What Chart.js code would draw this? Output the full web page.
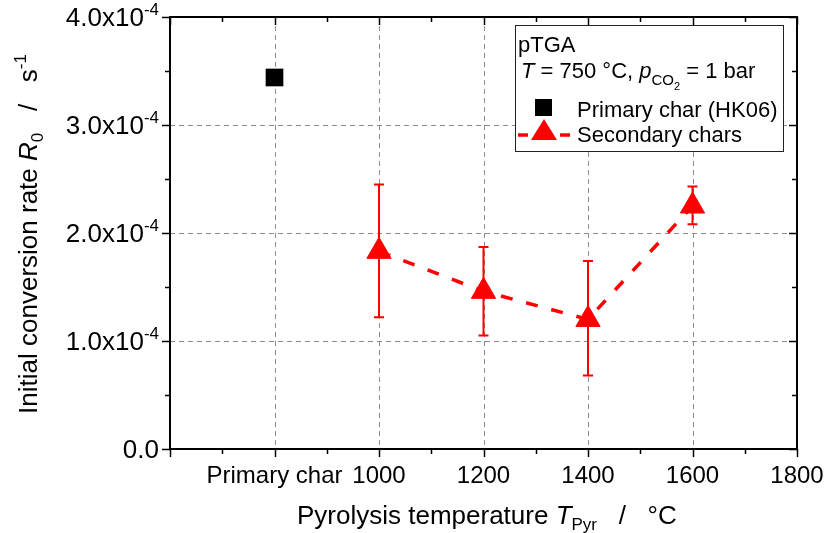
<!DOCTYPE html>
<html>
<head>
<meta charset="utf-8">
<script src="https://cdn.jsdelivr.net/npm/chart.js@4.4.1/dist/chart.umd.min.js"></script>
<style>
  body { margin: 0; background: #fff; }
  canvas { display: block; }
</style>
</head>
<body>
<canvas id="myChart" width="826" height="533"></canvas>
<script>
// data
const primaryTemp = [800];
const primaryRate = [3.44e-4];

const secondaryTemps = [1000, 1200, 1400, 1600];
const secondaryRates = [1.83e-4, 1.46e-4, 1.20e-4, 2.25e-4];
const secondaryLow = [1.22e-4, 1.05e-4, 0.68e-4, 2.08e-4];
const secondaryHigh = [2.45e-4, 1.87e-4, 1.74e-4, 2.43e-4];

const xTickValues = [600, 800, 1000, 1200, 1400, 1600, 1800];
const xTickLabels = ['', 'Primary char', '1000', '1200', '1400', '1600', '1800'];
const yTickValues = [0, 1e-4, 2e-4, 3e-4, 4e-4];
const yTickMantissa = ['0.0', '1.0', '2.0', '3.0', '4.0'];
const yTickExponent = ['', '-4', '-4', '-4', '-4'];

const FONT = '"Liberation Sans", Arial, sans-serif';
function font(size, italic) {
  return (italic ? 'italic ' : '') + size + 'px ' + FONT;
}

// draw a row of text pieces with different fonts / offsets
function drawRuns(ctx, runs, x, y, align) {
  let w = 0;
  runs.forEach(function(r) { ctx.font = r.font; w += ctx.measureText(r.t).width; });
  let cx = x;
  if (align === 'right') cx = x - w;
  if (align === 'center') cx = x - w / 2;
  runs.forEach(function(r) {
    ctx.font = r.font;
    ctx.fillText(r.t, cx, y + (r.dy || 0));
    cx += ctx.measureText(r.t).width;
  });
}

const gridPlugin = {
  id: 'gridAndErrors',
  beforeDatasetsDraw(chart) {
    const ctx = chart.ctx;
    const xs = chart.scales.x, ys = chart.scales.y;
    const a = chart.chartArea;
    ctx.save();
    ctx.strokeStyle = '#8c8c8c';
    ctx.lineWidth = 1;
    ctx.setLineDash([5, 4]);
    xTickValues.forEach(function(v) {
      if (v === xs.min || v === xs.max) return;
      const px = Math.round(xs.getPixelForValue(v)) + 0.5;
      ctx.beginPath(); ctx.moveTo(px, a.top); ctx.lineTo(px, a.bottom); ctx.stroke();
    });
    yTickValues.forEach(function(v) {
      if (v === ys.min || v === ys.max) return;
      const py = Math.round(ys.getPixelForValue(v)) + 0.5;
      ctx.beginPath(); ctx.moveTo(a.left, py); ctx.lineTo(a.right, py); ctx.stroke();
    });
    ctx.setLineDash([]);

    // error bars
    ctx.strokeStyle = '#ff0000';
    ctx.lineWidth = 2;
    secondaryTemps.forEach(function(t, i) {
      const px = xs.getPixelForValue(t);
      const lo = ys.getPixelForValue(secondaryLow[i]);
      const hi = ys.getPixelForValue(secondaryHigh[i]);
      ctx.beginPath();
      ctx.moveTo(px, lo); ctx.lineTo(px, hi);
      ctx.moveTo(px - 5, lo); ctx.lineTo(px + 5, lo);
      ctx.moveTo(px - 5, hi); ctx.lineTo(px + 5, hi);
      ctx.stroke();
    });
    ctx.restore();
  },
  afterDraw(chart) {
    const ctx = chart.ctx;
    const xs = chart.scales.x, ys = chart.scales.y;
    const a = chart.chartArea;
    ctx.save();
    ctx.strokeStyle = '#000';
    ctx.fillStyle = '#000';

    // ticks
    ctx.lineWidth = 1.5;
    ctx.beginPath();
    for (let v = xs.min; v <= xs.max; v += 100) {
      const px = Math.round(xs.getPixelForValue(v)) + 0.5;
      const major = xTickValues.indexOf(v) >= 0;
      const len = major ? 8 : 5;
      ctx.moveTo(px, a.bottom); ctx.lineTo(px, a.bottom + len);
      ctx.moveTo(px, a.top); ctx.lineTo(px, a.top + len);
    }
    for (let k = 0; k <= 8; k++) {
      const v = k * 0.5e-4;
      const py = Math.round(ys.getPixelForValue(v)) + 0.5;
      const len = (k % 2 === 0) ? 8 : 5;
      ctx.moveTo(a.left, py); ctx.lineTo(a.left - len, py);
      ctx.moveTo(a.right, py); ctx.lineTo(a.right - len, py);
    }
    ctx.stroke();

    // frame
    ctx.lineWidth = 2;
    ctx.strokeRect(a.left, a.top, a.right - a.left, a.bottom - a.top);

    // tick labels
    ctx.textBaseline = 'alphabetic';
    xTickValues.forEach(function(v, i) {
      if (!xTickLabels[i]) return;
      ctx.font = font(24);
      ctx.textAlign = 'center';
      ctx.fillText(xTickLabels[i], xs.getPixelForValue(v), a.bottom + 34);
    });
    ctx.textAlign = 'left';
    yTickValues.forEach(function(v, i) {
      const py = ys.getPixelForValue(v);
      const runs = [{ t: yTickMantissa[i] + (yTickExponent[i] ? 'x10' : ''), font: font(26) }];
      if (yTickExponent[i]) runs.push({ t: yTickExponent[i], font: font(17), dy: -11 });
      drawRuns(ctx, runs, a.left - 11, py + 9, 'right');
    });

    // x axis title
    drawRuns(ctx, [
      { t: 'Pyrolysis temperature ', font: font(26) },
      { t: 'T', font: font(26, true) },
      { t: 'Pyr', font: font(17), dy: 6 },
      { t: '   /   \u00b0C', font: font(26) }
    ], 297, 524, 'left');

    // y axis title
    ctx.save();
    ctx.translate(37, 234);
    ctx.rotate(-Math.PI / 2);
    drawRuns(ctx, [
      { t: 'Initial conversion rate ', font: font(26) },
      { t: 'R', font: font(26, true) },
      { t: '0', font: font(17), dy: 6 },
      { t: '   /   s', font: font(26) },
      { t: '-1', font: font(17), dy: -11 }
    ], 0, 0, 'center');
    ctx.restore();

    // legend box
    const lx = 515, ly = 25, lw = 268, lh = 126;
    ctx.fillStyle = '#fff';
    ctx.fillRect(lx, ly, lw, lh);
    ctx.lineWidth = 1;
    ctx.strokeStyle = '#222';
    ctx.strokeRect(lx + 0.5, ly + 0.5, lw, lh);
    ctx.fillStyle = '#000';
    ctx.font = font(22);
    ctx.fillText('pTGA', 518, 52);
    drawRuns(ctx, [
      { t: 'T', font: font(22, true) },
      { t: ' = 750 \u00b0C, ', font: font(22) },
      { t: 'p', font: font(22, true) },
      { t: 'CO', font: font(15), dy: 7 },
      { t: '2', font: font(11), dy: 12 },
      { t: ' = 1 bar', font: font(22) }
    ], 521, 78, 'left');

    // legend symbols
    ctx.fillRect(535, 99, 17, 17);
    ctx.fillText('Primary char (HK06)', 577, 117);

    ctx.strokeStyle = '#ff0000';
    ctx.lineWidth = 3.5;
    ctx.beginPath();
    ctx.moveTo(518, 135); ctx.lineTo(528, 135);
    ctx.moveTo(560, 135); ctx.lineTo(570, 135);
    ctx.stroke();
    ctx.fillStyle = '#ff0000';
    ctx.beginPath();
    ctx.moveTo(544, 119); ctx.lineTo(557, 140); ctx.lineTo(531, 140);
    ctx.closePath(); ctx.fill();
    ctx.fillStyle = '#000';
    ctx.fillText('Secondary chars', 577, 142);

    ctx.restore();
  }
};

const ctx = document.getElementById('myChart');

new Chart(ctx, {
  type: 'scatter',
  data: {
    datasets: [
      {
        label: 'Primary char (HK06)',
        data: primaryTemp.map(function(t, i) { return { x: t, y: primaryRate[i] }; }),
        pointStyle: 'rect',
        pointRadius: 12.5,
        pointHoverRadius: 12.5,
        backgroundColor: '#000',
        borderColor: '#000',
        borderWidth: 0
      },
      {
        label: 'Secondary chars',
        data: secondaryTemps.map(function(t, i) { return { x: t, y: secondaryRates[i] }; }),
        showLine: true,
        borderColor: '#ff0000',
        borderWidth: 3.5,
        borderDash: [12, 14],
        pointStyle: 'triangle',
        pointRadius: 14,
        pointHoverRadius: 14,
        pointBackgroundColor: '#ff0000',
        pointBorderColor: '#ff0000',
        pointBorderWidth: 1
      }
    ]
  },
  options: {
    responsive: false,
    devicePixelRatio: 1,
    animation: false,
    layout: { padding: { left: 170, right: 29, top: 17, bottom: 84 } },
    plugins: { legend: { display: false }, tooltip: { enabled: false } },
    scales: {
      x: { type: 'linear', display: false, min: 600, max: 1800 },
      y: { type: 'linear', display: false, min: 0, max: 4e-4 }
    }
  },
  plugins: [gridPlugin]
});
</script>
</body>
</html>
